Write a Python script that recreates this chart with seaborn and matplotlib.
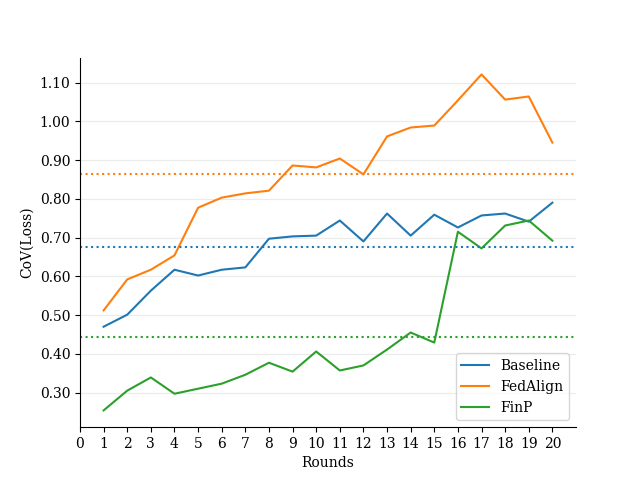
import pandas as pd
import numpy as np
import matplotlib
matplotlib.use('Agg')
import matplotlib.pyplot as plt
import seaborn as sns
from matplotlib.ticker import FormatStrFormatter, MultipleLocator

rounds = list(range(1, 21))
baseline = [0.470, 0.501, 0.563, 0.617, 0.602, 0.617, 0.623, 0.697, 0.703, 0.705,
            0.744, 0.690, 0.762, 0.705, 0.759, 0.726, 0.757, 0.762, 0.741, 0.790]
fedalign = [0.512, 0.592, 0.617, 0.654, 0.777, 0.803, 0.814, 0.821, 0.886, 0.881,
            0.904, 0.863, 0.961, 0.984, 0.989, 1.054, 1.121, 1.056, 1.064, 0.945]
finp = [0.254, 0.305, 0.339, 0.297, 0.310, 0.323, 0.346, 0.377, 0.354, 0.406,
        0.357, 0.370, 0.411, 0.455, 0.429, 0.715, 0.672, 0.731, 0.744, 0.692]

df = pd.DataFrame({'Rounds': rounds * 3,
                   'CoV': baseline + fedalign + finp,
                   'Method': ['Baseline'] * 20 + ['FedAlign'] * 20 + ['FinP'] * 20})

plt.rcParams['font.family'] = ['DejaVu Serif']
colors = ['#1f77b4', '#ff7f0e', '#2ca02c']

fig, ax = plt.subplots(figsize=(6.4, 4.8), dpi=100)
sns.lineplot(data=df, x='Rounds', y='CoV', hue='Method', palette=colors, ax=ax)

for vals, c in zip([baseline, fedalign, finp], colors):
    ax.axhline(np.mean(vals), color=c, linestyle=':', linewidth=1.5)

ax.set_xlim(0, 21)
ax.set_xticks(range(0, 21))
ax.yaxis.set_major_locator(MultipleLocator(0.1))
ax.yaxis.set_major_formatter(FormatStrFormatter('%.2f'))
ax.grid(axis='y', color='#ebebeb', linewidth=0.8)
ax.set_axisbelow(True)
ax.spines['top'].set_visible(False)
ax.spines['right'].set_visible(False)
ax.set_xlabel('Rounds')
ax.set_ylabel('CoV(Loss)')
ax.legend(loc='lower right')

plt.savefig('out.png')
